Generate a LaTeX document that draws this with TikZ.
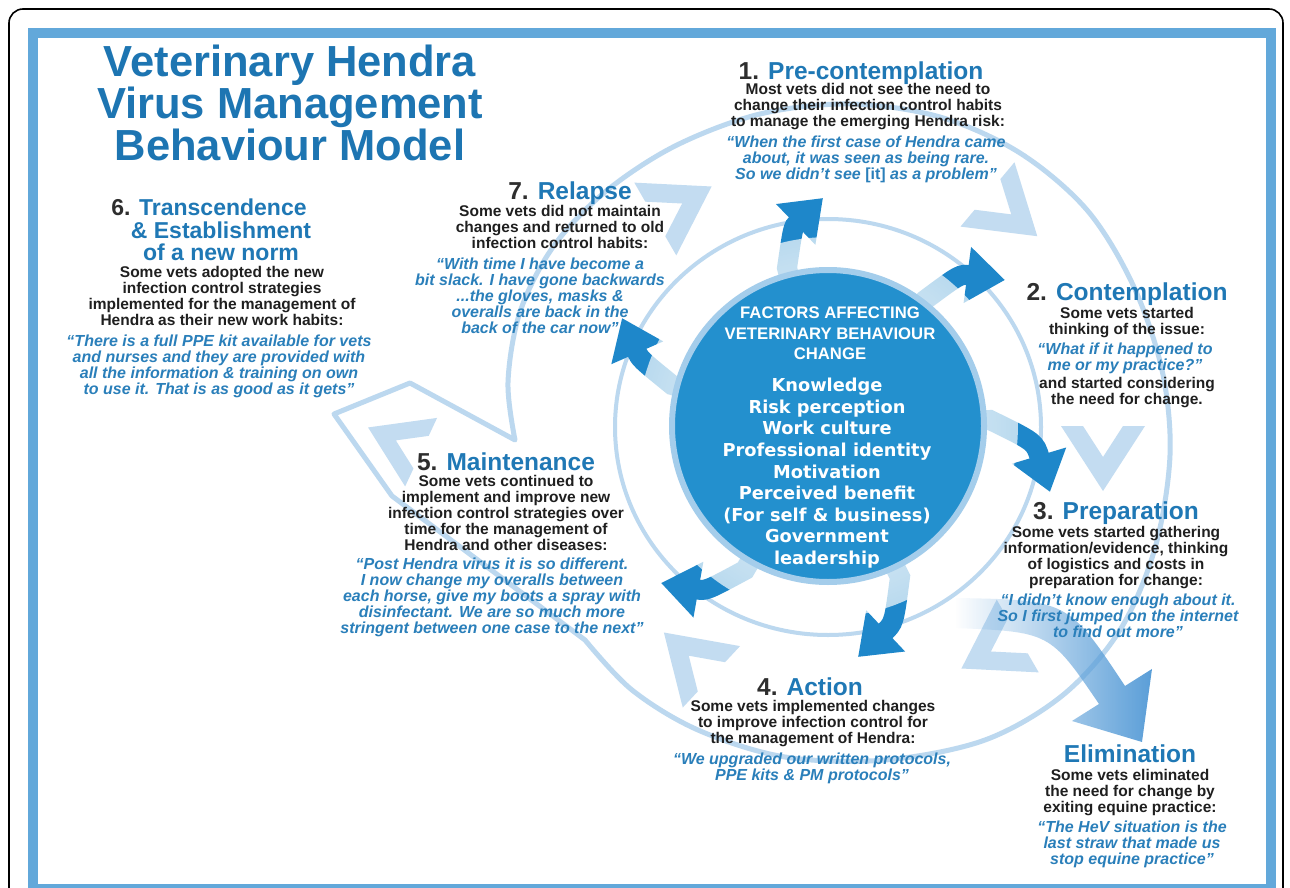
\documentclass[tikz,border=0pt]{standalone}
\usepackage{fontspec}
\setmainfont{Liberation Sans}
\newfontfamily\dejavu{DejaVu Sans}
\usetikzlibrary{arrows.meta,fadings}
\definecolor{framec}{HTML}{62A8DA}
\definecolor{titlec}{HTML}{1D75B2}
\definecolor{headc}{HTML}{1F78B5}
\definecolor{numc}{HTML}{2E2E2E}
\definecolor{bodyc}{HTML}{1F1F1F}
\definecolor{quotec}{HTML}{2A7FBA}
\definecolor{ringc}{HTML}{BCD8EF}
\definecolor{chevc}{HTML}{C3DCF1}
\definecolor{circc}{HTML}{2390CE}
\definecolor{circedge}{HTML}{A4CDEB}
\definecolor{arrowc}{HTML}{1E87CA}
\definecolor{elimc}{HTML}{5A9ED8}
\colorlet{fadeedge}{white!50!black}
\pgfdeclareradialshading{ringshade}{\pgfpointorigin}{color(0bp)=(white); color(41bp)=(fadeedge); color(50bp)=(black)}
\pgfdeclarefading{ringfade}{\pgfuseshading{ringshade}}
\tikzfading[name=fadein, left color=transparent!100, right color=transparent!0]
\newcommand{\stnum}[1]{{\color{numc}#1}}
\tikzset{
  hd/.style={font=\fontsize{24.5}{26}\selectfont\bfseries, text=headc, inner sep=0pt, align=center, anchor=north},
  bd/.style={font=\fontsize{15.5}{16}\selectfont\bfseries, text=bodyc, inner sep=0pt, align=center, anchor=north},
  qt/.style={font=\fontsize{16}{16}\selectfont\bfseries\itshape, text=quotec, inner sep=0pt, align=center, anchor=north},
  chev/.pic={\fill[chevc] (33,0) -- (-32,42) -- (-32,20) -- (-1,0) -- (-32,-20) -- (-32,-42) -- cycle;},
  ring/.style={draw=ringc, line width=5pt},
  cyc/.style={draw=arrowc, line width=20pt, -{Triangle[width=54pt,length=38pt]}},
}
\begin{document}
\begin{tikzpicture}[x=1pt,y=-1pt]
\useasboundingbox (0,0) rectangle (1290,888);
\fill[white] (0,0) rectangle (1290,888);

% big cycle ring with exit arrow outline towards stage 6
\draw[ring, line join=round] plot[smooth, tension=0.55] coordinates {(515,440) (508,382) (520,312) (553,247) (605,192) (675,146) (760,114) (850,104) (940,117) (1020,153) (1087,210) (1133,285) (1162,370) (1170,455) (1155,548) (1120,630) (1063,695) (985,740) (885,760) (785,757) (698,730) (632,690) (585,640)} -- (392,496) -- (334,414) -- (410,383) -- cycle;

% inner ring
\draw[ring, line width=4pt] (828,427) ellipse [x radius=213pt, y radius=208pt];

% chevrons
\path (683,203) pic[rotate=30] {chev};
\path (1012,215) pic[rotate=-40] {chev};
\path (1103,458) pic[rotate=-90] {chev};
\path (990,652) pic[rotate=210] {chev};
\path (688,655) pic[rotate=137] {chev};
\path (395,440) pic[rotate=155, scale=0.9] {chev};

% elimination arrow
\fill[elimc, path fading=fadein, fit fading=true] (955,598) .. controls (1068,600) .. (1125,686) -- (1152,669) -- (1142,742) -- (1072,721) -- (1099,704) .. controls (1050,632) .. (955,628) -- cycle;

% arrows from the core
\coordinate (c1s) at (793,292); \coordinate (c1b) at (787,268); \coordinate (c1c) at (793,227); \coordinate (c1t) at (823,198);
\coordinate (c2s) at (913,316); \coordinate (c2b) at (925,300); \coordinate (c2c) at (960,274); \coordinate (c2t) at (1005,280);
\coordinate (c3s) at (968,421); \coordinate (c3b) at (990,420); \coordinate (c3c) at (1035,442); \coordinate (c3t) at (1050,492);
\coordinate (c4s) at (891,559); \coordinate (c4b) at (900,577); \coordinate (c4c) at (894,623); \coordinate (c4t) at (858,657);
\coordinate (c5s) at (755,553); \coordinate (c5b) at (745,570); \coordinate (c5c) at (706,591); \coordinate (c5t) at (661,583);
\coordinate (c6s) at (691,390); \coordinate (c6b) at (672,385); \coordinate (c6c) at (640,359); \coordinate (c6t) at (622,318);
\draw[cyc] (c1s) -- (c1b) .. controls (c1c) .. (c1t);
\draw[cyc] (c2s) -- (c2b) .. controls (c2c) .. (c2t);
\draw[cyc] (c3s) -- (c3b) .. controls (c3c) .. (c3t);
\draw[cyc] (c4s) -- (c4b) .. controls (c4c) .. (c4t);
\draw[cyc] (c5s) -- (c5b) .. controls (c5c) .. (c5t);
\draw[cyc] (c6s) -- (c6b) .. controls (c6c) .. (c6t);

% light fade near the core
\fill[white, path fading=ringfade, fit fading=true] (828,427) circle [radius=190pt];

% core circle
\node[circle, fill=circc, draw=circedge, line width=6pt, minimum size=312pt, inner sep=0pt] (core) at (828,426) {};
\node[font=\fontsize{16.7}{20.5}\selectfont\bfseries, text=white, align=center, inner sep=0pt, anchor=north] (corehead) at (830,307) {FACTORS AFFECTING\\VETERINARY BEHAVIOUR\\CHANGE};
\node[font=\dejavu\bfseries\fontsize{17.8}{21.6}\selectfont, text=white, align=center, inner sep=0pt, anchor=north] (factors) at (827,378) {Knowledge\\Risk perception\\Work culture\\Professional identity\\Motivation\\Perceived benefit\\(For self \& business)\\Government\\leadership};

% title
\node[font=\fontsize{43.5}{40.5}\selectfont\bfseries, text=titlec, align=center, inner sep=0pt, anchor=north] (title) at (290,45) {Veterinary Hendra\\Virus Management\\Behaviour Model};

% 6
\node[hd, font=\fontsize{23}{22.5}\selectfont\bfseries] (h6) at (221,199) {\stnum{6.} Transcendence\hspace*{24pt}\\\& Establishment\\of a new norm};
\node[bd] (b6) at (222,266.5) {Some vets adopted the new\\infection control strategies\\implemented for the management of\\Hendra as their new work habits:};
\node[qt] (q6) at (219,334.5) {“There is a full PPE kit available for vets\\and nurses and they are provided with\\all the information \& training on own\\to use it. That is as good as it gets”};

% 7
\node[hd] (h7) at (570,181.5) {\stnum{7.} Relapse};
\node[bd] (b7) at (560,205.5) {Some vets did not maintain\\changes and returned to old\\infection control habits:};
\node[qt] (q7) at (540,257.5) {“With time I have become a\\bit slack. I have gone backwards\\...the gloves, masks \&\\overalls are back in the\\back of the car now”};

% 1
\node[hd] (h1) at (861,61.5) {\stnum{1.} Pre-contemplation};
\node[bd] (b1) at (868,83.5) {Most vets did not see the need to\\change their infection control habits\\to manage the emerging Hendra risk:};
\node[qt] (q1) at (866,135.5) {“When the first case of Hendra came\\about, it was seen as being rare.\\So we didn't see {\upshape [it]} as a problem”};

% 2
\node[hd] (h2) at (1127,282.5) {\stnum{2.} Contemplation};
\node[bd] (b2) at (1127,307.5) {Some vets started\\thinking of the issue:};
\node[qt] (q2) at (1125,342.5) {“What if it happened to\\me or my practice?”};
\node[bd] (b2b) at (1127,377.5) {and started considering\\the need for change.};

% 3
\node[hd] (h3) at (1116,501.5) {\stnum{3.} Preparation};
\node[bd] (b3) at (1116,526.5) {Some vets started gathering\\information/evidence, thinking\\of logistics and costs in\\preparation for change:};
\node[qt] (q3) at (1118,593.5) {“I didn't know enough about it.\\So I first jumped on the internet\\to find out more”};

% 4
\node[hd] (h4) at (810,677.5) {\stnum{4.} Action};
\node[bd] (b4) at (813,700.5) {Some vets implemented changes\\to improve infection control for\\the management of Hendra:};
\node[qt] (q4) at (812,752.5) {“We upgraded our written protocols,\\PPE kits \& PM protocols”};

% 5
\node[hd] (h5) at (506,452.5) {\stnum{5.} Maintenance};
\node[bd] (b5) at (506,475.5) {Some vets continued to\\implement and improve new\\infection control strategies over\\time for the management of\\Hendra and other diseases:};
\node[qt] (q5) at (492,557.5) {“Post Hendra virus it is so different.\\I now change my overalls between\\each horse, give my boots a spray with\\disinfectant. We are so much more\\stringent between one case to the next”};

% Elimination
\node[hd] (he) at (1130,744.5) {Elimination};
\node[bd] (be) at (1130,769.5) {Some vets eliminated\\the need for change by\\exiting equine practice:};
\node[qt] (qe) at (1132,820.5) {“The HeV situation is the\\last straw that made us\\stop equine practice”};

% frames
\draw[black, line width=1.6pt, rounded corners=14pt] (9,9) rectangle (1283,905);
\draw[framec, line width=10pt] (33,33) rectangle (1271,889);
\end{tikzpicture}
\end{document}
